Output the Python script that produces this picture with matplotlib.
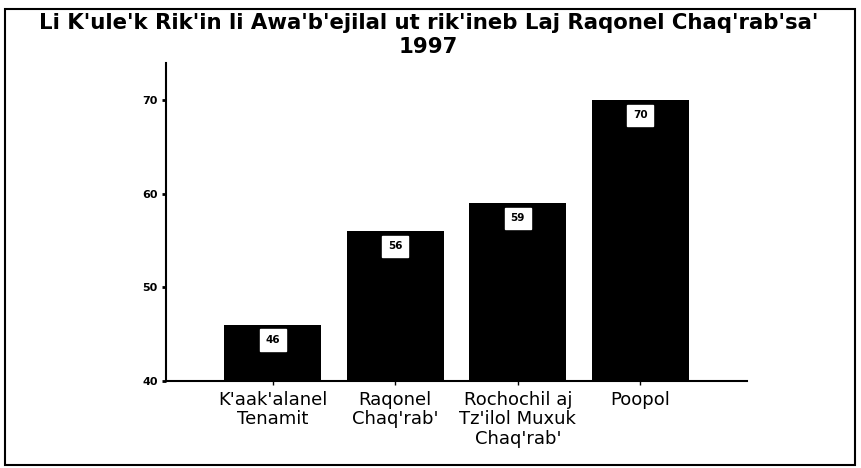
import numpy as np
import matplotlib
matplotlib.use('Agg')
import matplotlib.pyplot as plt
from matplotlib.patches import Rectangle
from matplotlib import rcParams
rcParams['font.family'] = ['DejaVu Sans']

# Data
categories = ["K'aak'alanel\nTenamit", "Raqonel\nChaq'rab'", "Rochochil aj\nTz'ilol Muxuk\nChaq'rab'", "Poopol"]
values = [46, 56, 59, 70]
yticks = [40, 50, 60, 70]
title = "Li K'ule'k Rik'in li Awa'b'ejilal ut rik'ineb Laj Raqonel Chaq'rab'sa'\n1997"

fig = plt.figure(figsize=(8.62, 4.68), dpi=100)
ax = fig.add_axes([0.1926, 0.1859, 0.6740, 0.6795])

x = np.arange(len(categories))
bars = ax.bar(x, values, width=0.79, color='black', bottom=0)
ax.set_ylim(40, 74)
ax.set_xlim(-0.87, 3.87)

# value labels in white boxes near the top of each bar
for xi, v in zip(x, values):
    ax.text(xi, v - 1.6, str(v), ha='center', va='center', fontsize=7.5, fontweight='bold',
            bbox=dict(boxstyle='square,pad=0.55', fc='white', ec='white'))

ax.set_xticks(x)
ax.set_xticklabels(categories, fontsize=13, linespacing=1.1)
ax.set_yticks(yticks)
ax.set_yticklabels([str(t) for t in yticks], fontsize=8, fontweight='bold')
ax.tick_params(axis='y', length=3, width=2, pad=3)
ax.tick_params(axis='x', length=3, width=1, pad=4)

for s in ['top', 'right']:
    ax.spines[s].set_visible(False)
ax.spines['left'].set_linewidth(1.5)
ax.spines['bottom'].set_linewidth(1.5)

fig.text(0.497, 0.973, title, ha='center', va='top', fontsize=15.3, fontweight='bold',
         linespacing=1.25)

# outer frame
fig.patches.append(Rectangle((0.006, 0.006), 0.986, 0.975, transform=fig.transFigure,
                             fill=False, ec='black', lw=1.5))

plt.savefig('out.png', dpi=100)
